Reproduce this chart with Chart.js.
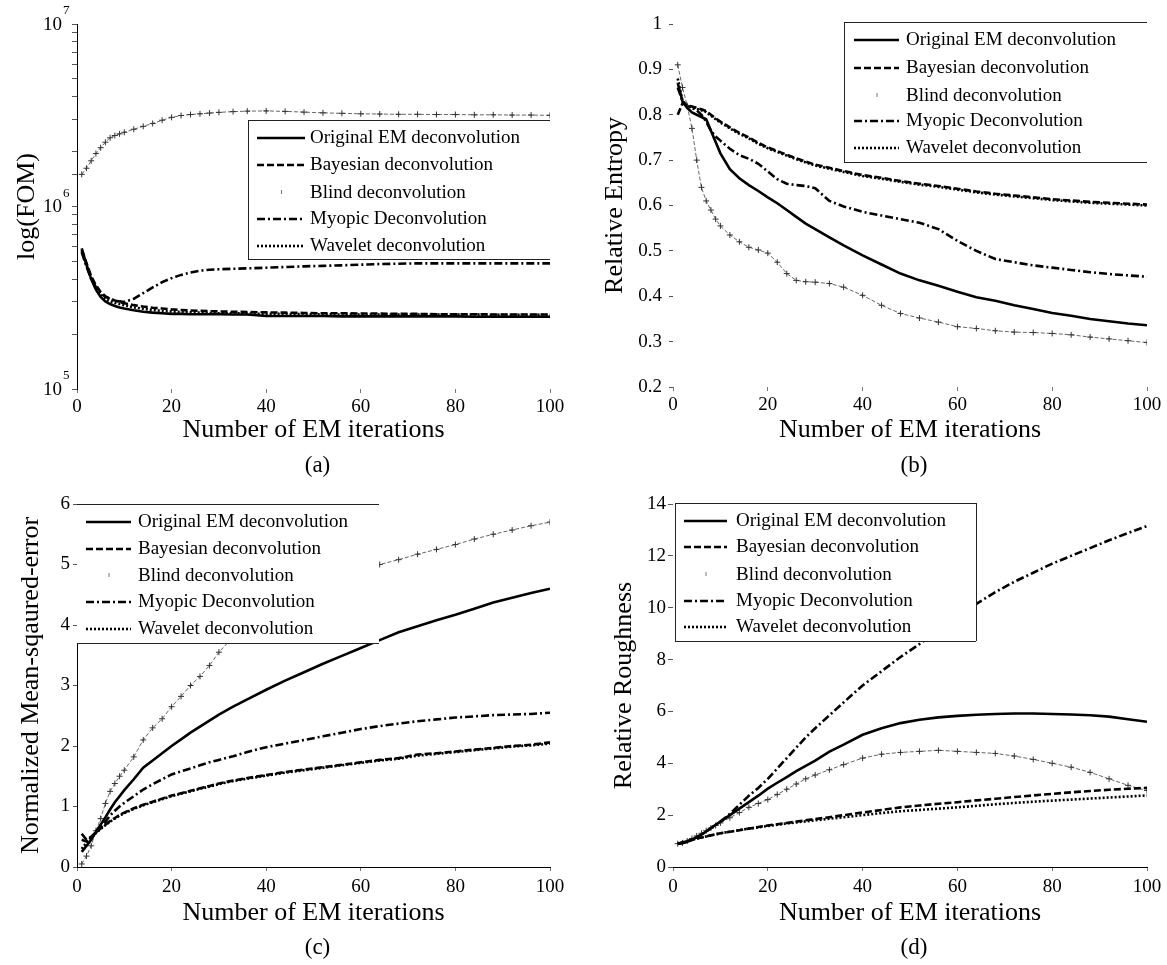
<!DOCTYPE html>
<html>
<head>
<meta charset="utf-8">
<script src="https://cdn.jsdelivr.net/npm/chart.js@4.4.1/dist/chart.umd.min.js"></script>
<style>
  body { margin: 0; background: #fff; }
  #wrap { position: relative; width: 1167px; height: 965px; font-family: "Liberation Serif", serif; }
  canvas { position: absolute; }
  .cap { position: absolute; font-size: 23px; color: #000; transform: translate(-50%, -50%); white-space: nowrap; }
</style>
</head>
<body>
<div id="wrap">
  <canvas id="panelA" width="583" height="470" style="left:0;top:0"></canvas>
  <canvas id="panelB" width="584" height="470" style="left:583px;top:0"></canvas>
  <canvas id="panelC" width="583" height="495" style="left:0;top:470px"></canvas>
  <canvas id="panelD" width="584" height="495" style="left:583px;top:470px"></canvas>
</div>
<script>
const FONT = 'Liberation Serif';

// iteration numbers at which the curves were read
const iterations = [1,2,3,4,5,6,7,8,9,10,12,14,16,18,20,22,24,26,28,30,33,36,40,44,48,52,56,60,64,68,72,76,80,84,88,92,96,100];

const seriesNames = ['Original EM deconvolution', 'Bayesian deconvolution', 'Blind deconvolution', 'Myopic Deconvolution', 'Wavelet deconvolution'];
const panelLabels = ['(a)', '(b)', '(c)', '(d)'];
const xTicks = [0, 20, 40, 60, 80, 100];

// (a) log(FOM)
const fomOriginal = [5.9e5,4.8e5,4.0e5,3.5e5,3.2e5,3.02e5,2.92e5,2.85e5,2.8e5,2.76e5,2.7e5,2.65e5,2.62e5,2.6e5,2.58e5,2.58e5,2.57e5,2.57e5,2.57e5,2.57e5,2.56e5,2.56e5,2.51e5,2.51e5,2.51e5,2.51e5,2.5e5,2.5e5,2.5e5,2.5e5,2.5e5,2.5e5,2.5e5,2.49e5,2.49e5,2.49e5,2.49e5,2.49e5];
const fomBayesian = [5.8e5,4.9e5,4.15e5,3.7e5,3.4e5,3.22e5,3.12e5,3.05e5,3.0e5,2.95e5,2.88e5,2.83e5,2.79e5,2.76e5,2.73e5,2.71e5,2.69e5,2.68e5,2.67e5,2.66e5,2.65e5,2.64e5,2.63e5,2.62e5,2.61e5,2.6e5,2.6e5,2.59e5,2.59e5,2.58e5,2.58e5,2.57e5,2.57e5,2.57e5,2.56e5,2.56e5,2.56e5,2.56e5];
const fomBlind = [1.5e6,1.62e6,1.78e6,1.95e6,2.1e6,2.25e6,2.38e6,2.45e6,2.5e6,2.55e6,2.65e6,2.75e6,2.85e6,2.97e6,3.08e6,3.15e6,3.19e6,3.22e6,3.25e6,3.28e6,3.31e6,3.33e6,3.34e6,3.32e6,3.29e6,3.26e6,3.24e6,3.22e6,3.21e6,3.2e6,3.2e6,3.19e6,3.19e6,3.18e6,3.18e6,3.17e6,3.17e6,3.16e6];
const fomMyopic = [5.6e5,4.7e5,4.0e5,3.6e5,3.35e5,3.2e5,3.12e5,3.06e5,3.02e5,3.0e5,3.12e5,3.35e5,3.6e5,3.85e5,4.05e5,4.22e5,4.35e5,4.45e5,4.5e5,4.53e5,4.56e5,4.58e5,4.62e5,4.66e5,4.7e5,4.73e5,4.76e5,4.8e5,4.84e5,4.86e5,4.88e5,4.88e5,4.88e5,4.88e5,4.88e5,4.88e5,4.88e5,4.88e5];
const fomWavelet = [5.7e5,4.75e5,4.05e5,3.6e5,3.3e5,3.12e5,3.02e5,2.96e5,2.92e5,2.88e5,2.8e5,2.75e5,2.71e5,2.68e5,2.66e5,2.64e5,2.63e5,2.62e5,2.61e5,2.6e5,2.6e5,2.59e5,2.58e5,2.58e5,2.57e5,2.57e5,2.56e5,2.56e5,2.56e5,2.56e5,2.56e5,2.56e5,2.56e5,2.56e5,2.55e5,2.55e5,2.55e5,2.55e5];
const fomTicks = [1e5, 1e6, 1e7];
const fomTickBase = ['10', '10', '10'];
const fomTickExp = ['5', '6', '7'];

// (b) relative entropy
const entropyOriginal = [0.87,0.83,0.815,0.805,0.80,0.795,0.79,0.765,0.74,0.715,0.68,0.66,0.645,0.632,0.618,0.605,0.59,0.575,0.56,0.548,0.53,0.512,0.49,0.47,0.45,0.435,0.423,0.41,0.398,0.39,0.38,0.372,0.363,0.357,0.35,0.345,0.34,0.336];
const entropyBayesian = [0.8,0.825,0.82,0.818,0.815,0.812,0.808,0.8,0.792,0.785,0.772,0.76,0.75,0.738,0.728,0.72,0.712,0.704,0.697,0.69,0.683,0.676,0.667,0.661,0.654,0.648,0.643,0.637,0.631,0.626,0.622,0.618,0.614,0.611,0.608,0.606,0.604,0.602];
const entropyBlind = [0.91,0.86,0.82,0.77,0.7,0.64,0.61,0.59,0.57,0.555,0.535,0.52,0.508,0.502,0.495,0.475,0.45,0.435,0.432,0.431,0.428,0.42,0.402,0.38,0.362,0.352,0.343,0.333,0.329,0.324,0.321,0.32,0.318,0.315,0.31,0.306,0.302,0.298];
const entropyMyopic = [0.86,0.83,0.82,0.815,0.81,0.8,0.785,0.765,0.752,0.743,0.725,0.711,0.703,0.692,0.675,0.658,0.648,0.645,0.643,0.638,0.61,0.598,0.586,0.578,0.57,0.562,0.548,0.522,0.5,0.482,0.475,0.468,0.463,0.458,0.453,0.449,0.446,0.443];
const entropyWavelet = [0.88,0.83,0.82,0.816,0.813,0.81,0.806,0.798,0.79,0.783,0.77,0.758,0.748,0.736,0.726,0.718,0.71,0.702,0.695,0.688,0.681,0.674,0.665,0.659,0.652,0.646,0.641,0.635,0.629,0.624,0.62,0.616,0.612,0.609,0.606,0.604,0.602,0.6];
const entropyTicks = [0.2, 0.3, 0.4, 0.5, 0.6, 0.7, 0.8, 0.9, 1];
const entropyTickLabels = ['0.2', '0.3', '0.4', '0.5', '0.6', '0.7', '0.8', '0.9', '1'];

// (c) normalized mean-squared error
const mseOriginal = [0.25,0.35,0.45,0.58,0.7,0.82,0.95,1.07,1.17,1.27,1.45,1.64,1.76,1.88,2.0,2.11,2.22,2.32,2.42,2.52,2.65,2.77,2.93,3.08,3.22,3.36,3.49,3.62,3.75,3.88,3.98,4.08,4.17,4.27,4.37,4.45,4.53,4.6];
const mseBayesian = [0.45,0.42,0.5,0.57,0.64,0.7,0.76,0.81,0.86,0.9,0.97,1.03,1.08,1.13,1.18,1.22,1.26,1.3,1.34,1.38,1.43,1.47,1.52,1.57,1.61,1.65,1.69,1.73,1.77,1.8,1.86,1.88,1.91,1.94,1.97,2.0,2.02,2.06];
const mseBlind = [0.05,0.18,0.35,0.6,0.8,1.05,1.25,1.38,1.5,1.6,1.82,2.1,2.3,2.45,2.65,2.82,3.0,3.15,3.33,3.55,3.8,4.0,4.25,4.45,4.6,4.7,4.8,4.9,5.0,5.08,5.17,5.25,5.33,5.42,5.5,5.57,5.64,5.7];
const mseMyopic = [0.55,0.45,0.5,0.57,0.65,0.75,0.85,0.93,1.0,1.06,1.17,1.28,1.37,1.45,1.53,1.58,1.63,1.68,1.73,1.77,1.83,1.9,1.98,2.04,2.1,2.16,2.22,2.28,2.33,2.37,2.41,2.44,2.47,2.49,2.51,2.52,2.53,2.55];
const mseWavelet = [0.3,0.4,0.48,0.56,0.63,0.69,0.75,0.8,0.85,0.89,0.96,1.02,1.07,1.12,1.17,1.21,1.25,1.29,1.33,1.37,1.42,1.46,1.51,1.56,1.6,1.64,1.68,1.72,1.76,1.79,1.84,1.87,1.9,1.93,1.96,1.99,2.01,2.04];
const mseTicks = [0, 1, 2, 3, 4, 5, 6];
const mseTickLabels = ['0', '1', '2', '3', '4', '5', '6'];

// (d) relative roughness
const roughOriginal = [0.9,0.92,0.97,1.05,1.15,1.25,1.37,1.5,1.63,1.75,2.0,2.25,2.5,2.75,3.02,3.25,3.47,3.7,3.9,4.1,4.45,4.72,5.1,5.35,5.55,5.68,5.77,5.83,5.87,5.9,5.92,5.92,5.9,5.88,5.85,5.8,5.7,5.6];
const roughBayesian = [0.9,0.95,1.0,1.05,1.1,1.14,1.18,1.22,1.26,1.3,1.36,1.42,1.48,1.54,1.6,1.65,1.7,1.75,1.8,1.85,1.92,2.0,2.1,2.2,2.3,2.37,2.44,2.5,2.57,2.63,2.7,2.76,2.82,2.88,2.93,2.98,3.02,3.05];
const roughBlind = [0.9,0.93,1.0,1.1,1.2,1.3,1.4,1.5,1.6,1.7,1.9,2.1,2.3,2.45,2.6,2.8,3.0,3.2,3.4,3.55,3.75,3.95,4.2,4.35,4.42,4.46,4.5,4.46,4.42,4.38,4.28,4.15,4.0,3.85,3.65,3.4,3.15,2.95];
const roughMyopic = [0.9,0.93,0.98,1.05,1.15,1.25,1.37,1.5,1.62,1.75,2.05,2.4,2.75,3.05,3.4,3.8,4.2,4.6,5.0,5.35,5.85,6.35,7.0,7.55,8.1,8.6,9.1,9.6,10.15,10.6,11.0,11.35,11.7,12.0,12.3,12.6,12.88,13.15];
const roughWavelet = [0.9,0.95,1.0,1.05,1.1,1.14,1.18,1.22,1.26,1.3,1.36,1.42,1.48,1.53,1.58,1.63,1.68,1.72,1.76,1.8,1.86,1.92,2.0,2.08,2.15,2.2,2.25,2.3,2.36,2.42,2.47,2.52,2.56,2.6,2.64,2.68,2.72,2.76];
const roughTicks = [0, 2, 4, 6, 8, 10, 12, 14];
const roughTickLabels = ['0', '2', '4', '6', '8', '10', '12', '14'];

const lineStyles = [
  { borderColor: '#000', borderWidth: 2.6, borderDash: [] },
  { borderColor: '#000', borderWidth: 2.6, borderDash: [7, 3] },
  { borderColor: '#666', borderWidth: 1, borderDash: [4, 2], pointStyle: 'cross', pointRadius: 3, pointBorderWidth: 1, pointBorderColor: '#333' },
  { borderColor: '#000', borderWidth: 2.6, borderDash: [8, 3, 2, 3] },
  { borderColor: '#000', borderWidth: 2.6, borderDash: [2, 2] }
];

function lineSets(values) {
  return seriesNames.map((name, i) => Object.assign({
    label: name,
    data: iterations.map((x, k) => ({ x: x, y: values[i][k] })),
    pointRadius: 0,
    fill: false,
    tension: 0
  }, lineStyles[i]));
}

// legend box drawn on top of the curves (it hides the blind curve in (c))
const boxLegend = {
  id: 'boxLegend',
  afterDatasetsDraw(chart, args, o) {
    if (!o || !o.rows) return;
    const ctx = chart.ctx;
    ctx.save();
    ctx.fillStyle = '#fff';
    ctx.fillRect(o.x0, o.y0, o.x1 - o.x0, o.y1 - o.y0);
    ctx.strokeStyle = '#222';
    ctx.lineWidth = 1;
    ctx.setLineDash([]);
    ctx.beginPath();
    if (o.sides.includes('t')) { ctx.moveTo(o.x0, o.y0 + 0.5); ctx.lineTo(o.x1, o.y0 + 0.5); }
    if (o.sides.includes('b')) { ctx.moveTo(o.x0, o.y1 + 0.5); ctx.lineTo(o.x1, o.y1 + 0.5); }
    if (o.sides.includes('l')) { ctx.moveTo(o.x0 + 0.5, o.y0); ctx.lineTo(o.x0 + 0.5, o.y1); }
    if (o.sides.includes('r')) { ctx.moveTo(o.x1 + 0.5, o.y0); ctx.lineTo(o.x1 + 0.5, o.y1); }
    ctx.stroke();

    chart.data.datasets.forEach((ds, i) => {
      const y = o.rows[i];
      if (ds.pointStyle === 'cross') {
        const mx = (o.s0 + o.s1) / 2;
        ctx.strokeStyle = '#777';
        ctx.lineWidth = 1;
        ctx.setLineDash([]);
        ctx.beginPath();
        ctx.moveTo(mx + 0.5, y - 3);
        ctx.lineTo(mx + 0.5, y + 1);
        ctx.stroke();
      } else {
        ctx.strokeStyle = ds.borderColor;
        ctx.lineWidth = ds.borderWidth;
        ctx.setLineDash(ds.borderDash);
        ctx.beginPath();
        ctx.moveTo(o.s0, y);
        ctx.lineTo(o.s1, y);
        ctx.stroke();
      }
      ctx.setLineDash([]);
      ctx.fillStyle = '#000';
      ctx.font = '19px "' + FONT + '"';
      ctx.textAlign = 'left';
      ctx.textBaseline = 'middle';
      ctx.fillText(ds.label, o.tx, y);
    });
    ctx.restore();
  }
};

// 10^n labels for the log axis
const powerLabels = {
  id: 'powerLabels',
  afterDraw(chart, args, o) {
    if (!o || !o.values) return;
    const ctx = chart.ctx;
    const sc = chart.scales.y;
    ctx.save();
    ctx.fillStyle = '#000';
    ctx.textBaseline = 'middle';
    o.values.forEach((v, i) => {
      const y = sc.getPixelForValue(v);
      ctx.font = '19px "' + FONT + '"';
      ctx.textAlign = 'right';
      ctx.fillText(o.base[i], sc.right - 15, y + 1);
      ctx.font = '13px "' + FONT + '"';
      ctx.textAlign = 'left';
      ctx.fillText(o.exp[i], sc.right - 14, y - 13);
    });
    ctx.restore();
  }
};

function buildPanel(id, p) {
  return new Chart(document.getElementById(id), {
    type: 'line',
    data: { datasets: lineSets(p.values) },
    plugins: [boxLegend, powerLabels],
    options: {
      responsive: false,
      animation: false,
      devicePixelRatio: 1,
      layout: { padding: { left: 0, right: p.padRight, top: p.padTop, bottom: 0 } },
      plugins: {
        legend: { display: false },
        tooltip: { enabled: false },
        boxLegend: p.legend,
        powerLabels: p.power || {}
      },
      scales: {
        x: {
          type: 'linear', min: 0, max: 100,
          afterBuildTicks: s => { s.ticks = xTicks.map(v => ({ value: v })); },
          afterFit: s => { s.height = p.axisH; },
          border: { display: p.xBorder, color: '#000', width: 1 },
          grid: { drawOnChartArea: false, drawTicks: true, tickLength: 4, color: '#777' },
          ticks: { color: '#000', font: { family: FONT, size: 19 }, padding: p.xLabelPad, maxRotation: 0, autoSkip: false },
          title: { display: true, text: 'Number of EM iterations', color: '#000', font: { family: FONT, size: 26 }, padding: { top: 0, bottom: p.xTitlePad } }
        },
        y: {
          type: p.yType, min: p.yMin, max: p.yMax,
          afterBuildTicks: p.yTicks ? (s => { s.ticks = p.yTicks.map(v => ({ value: v })); }) : undefined,
          afterFit: s => { s.width = p.axisW; },
          border: { display: p.yBorder, color: '#000', width: 1 },
          grid: { drawOnChartArea: false, drawTicks: true, tickLength: p.yTickLen, color: '#555' },
          ticks: {
            display: !p.power, color: '#000', font: { family: FONT, size: 19 }, padding: p.yLabelPad,
            callback: (v, i) => (p.yLabels ? p.yLabels[i] : '')
          },
          title: { display: true, text: p.yTitle, color: '#000', font: { family: FONT, size: 26 }, padding: { top: p.yTitlePad, bottom: 0 } }
        }
      }
    }
  });
}

const charts = [];

charts.push(buildPanel('panelA', {
  values: [fomOriginal, fomBayesian, fomBlind, fomMyopic, fomWavelet],
  yType: 'logarithmic', yMin: 1e5, yMax: 1e7, yTicks: null, yLabels: null,
  power: { values: fomTicks, base: fomTickBase, exp: fomTickExp },
  yTitle: 'log(FOM)', yTitlePad: 12, yTickLen: 5, yLabelPad: 4,
  xBorder: false, yBorder: true,
  axisW: 77, axisH: 81, padTop: 24, padRight: 33, xLabelPad: 3, xTitlePad: 24,
  legend: { x0: 248, y0: 120, x1: 550, y1: 259, sides: 'ltb', s0: 257, s1: 305, tx: 310, rows: [138, 165, 193, 219, 246] }
}));

charts.push(buildPanel('panelB', {
  values: [entropyOriginal, entropyBayesian, entropyBlind, entropyMyopic, entropyWavelet],
  yType: 'linear', yMin: 0.2, yMax: 1, yTicks: entropyTicks, yLabels: entropyTickLabels,
  yTitle: 'Relative Entropy', yTitlePad: 17, yTickLen: 4, yLabelPad: 7,
  xBorder: false, yBorder: false,
  axisW: 90, axisH: 83, padTop: 24, padRight: 20, xLabelPad: 3, xTitlePad: 24,
  legend: { x0: 261, y0: 22, x1: 564, y1: 162, sides: 'ltb', s0: 271, s1: 316, tx: 323, rows: [40, 68, 96, 121, 148] }
}));

charts.push(buildPanel('panelC', {
  values: [mseOriginal, mseBayesian, mseBlind, mseMyopic, mseWavelet],
  yType: 'linear', yMin: 0, yMax: 6, yTicks: mseTicks, yLabels: mseTickLabels,
  yTitle: 'Normalized Mean-sqaured-error', yTitlePad: 16, yTickLen: 4, yLabelPad: 3,
  xBorder: true, yBorder: true,
  axisW: 77, axisH: 98, padTop: 34, padRight: 33, xLabelPad: 5, xTitlePad: 36,
  legend: { x0: 77, y0: 34, x1: 379, y1: 173, sides: 'tb', s0: 86, s1: 131, tx: 138, rows: [52, 79, 106, 132, 159] }
}));

charts.push(buildPanel('panelD', {
  values: [roughOriginal, roughBayesian, roughBlind, roughMyopic, roughWavelet],
  yType: 'linear', yMin: 0, yMax: 14, yTicks: roughTicks, yLabels: roughTickLabels,
  yTitle: 'Relative Roughness', yTitlePad: 26, yTickLen: 5, yLabelPad: 2,
  xBorder: true, yBorder: false,
  axisW: 90, axisH: 98, padTop: 34, padRight: 20, xLabelPad: 5, xTitlePad: 36,
  legend: { x0: 92, y0: 33, x1: 393, y1: 171, sides: 'ltrb', s0: 101, s1: 144, tx: 153, rows: [51, 77, 105, 131, 157] }
}));

// panel captions under each x axis title
const wrap = document.getElementById('wrap');
charts.forEach((c, i) => {
  const cv = c.canvas;
  const area = c.chartArea;
  const d = document.createElement('div');
  d.className = 'cap';
  d.textContent = panelLabels[i];
  d.style.left = (cv.offsetLeft + (area.left + area.right) / 2 + 4) + 'px';
  d.style.top = (i < 2 ? 465 : 947) + 'px';
  wrap.appendChild(d);
});
</script>
</body>
</html>
